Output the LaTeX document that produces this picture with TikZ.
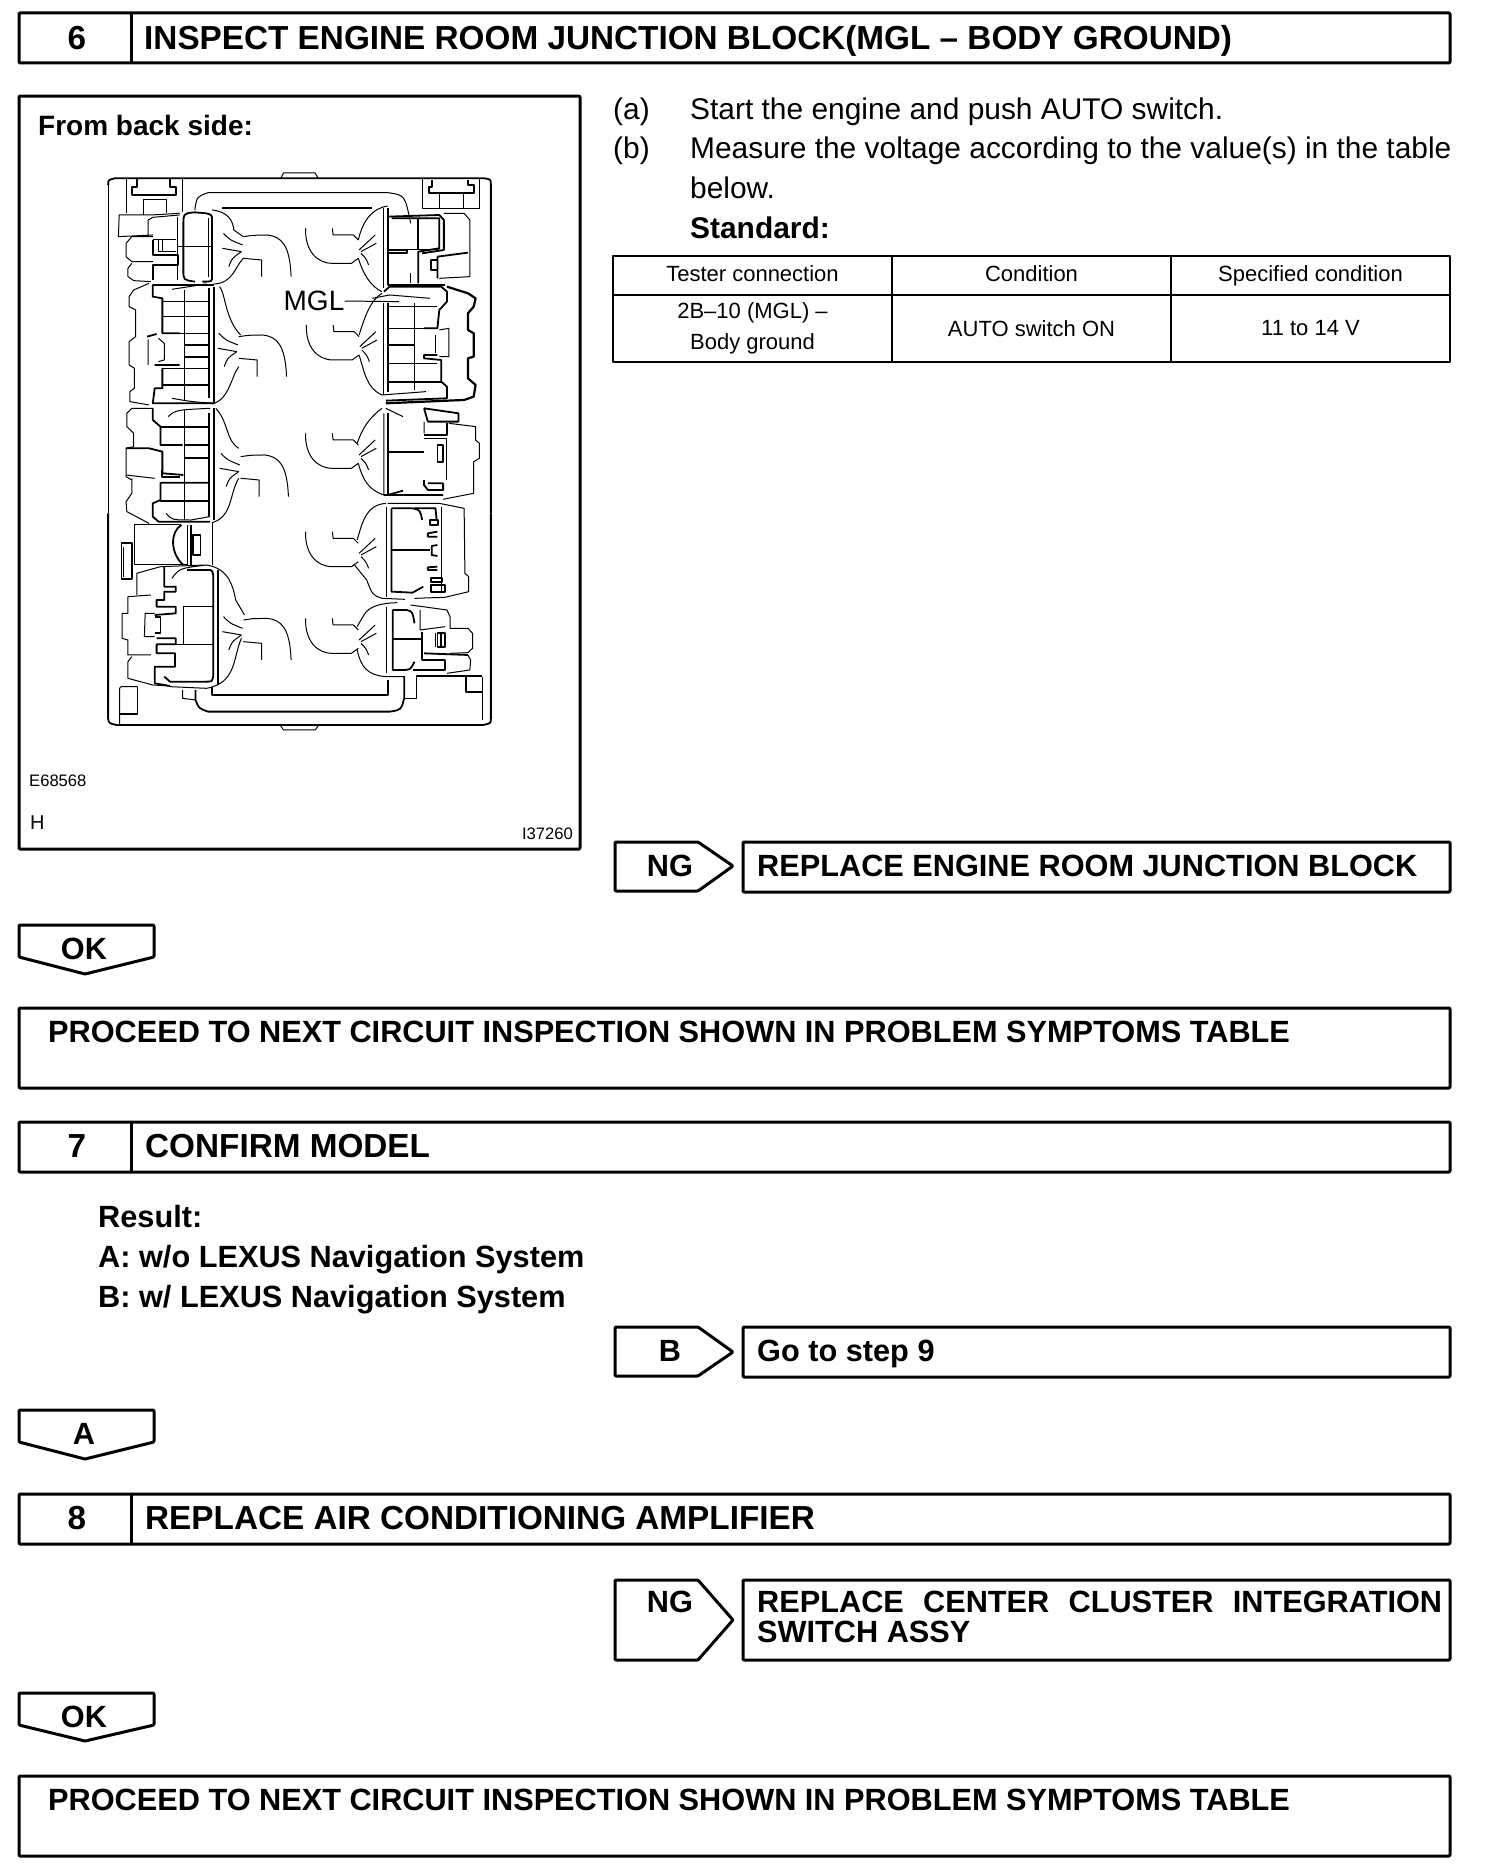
\documentclass[tikz,border=0pt]{standalone}
\usepackage{fontspec}
\setmainfont{Liberation Sans}
\usetikzlibrary{positioning,calc}
\newcommand{\bodyfont}{\fontsize{29.9}{39.7}\selectfont}
\newcommand{\headfont}{\fontsize{33.3}{36}\selectfont\bfseries}
\newcommand{\tagfont}{\fontsize{30.7}{33}\selectfont\bfseries}
\newcommand{\cellfont}{\fontsize{22}{31}\selectfont}
\newcommand{\tinyfont}{\fontsize{16.6}{18}\selectfont}

\begin{document}
\begin{tikzpicture}[
    x=1pt, y=-1pt,
    line join=round,
    frame/.style={
        draw,
        line width=3pt,
        rounded corners=1pt,
        minimum height=50pt,
        anchor=north west,
        inner sep=0pt,
        outer sep=0pt
    },
    cellbox/.style={
        draw,
        line width=2.4pt,
        align=center,
        anchor=north west,
        inner sep=0pt,
        outer sep=0pt,
        font=\cellfont
    },
    headtext/.style={
        anchor=base west,
        inner sep=0pt,
        font=\headfont
    },
    bodytext/.style={
        anchor=base west,
        inner sep=0pt,
        font=\bodyfont
    },
    tagtext/.style={
        anchor=base,
        inner sep=0pt,
        font=\tagfont
    },
    tagline/.style={
        line width=3pt,
        rounded corners=1pt
    },
    thin line/.style={line width=1pt},
    thick line/.style={line width=1.8pt},
    lfan/.pic={
        \draw[thin line] (0,-30) -- (25,-34) -- (63,-35) .. controls (100,-30) and (122,-5) .. (125,90);
        \draw[thin line] (0,35) -- (48,40) -- (48,90);
        \draw[thin line] (-52,-40) .. controls (-35,-20) .. (-2,-5);
        \draw[thin line] (-55,5) -- (-5,15);
        \draw[thin line] (-38,60) .. controls (-30,35) .. (-5,15);
    },
    rfan/.pic={
        \draw[thin line] (-138,-55) .. controls (-140,10) and (-110,50) .. (-68,50) -- (-18,50) -- (0,35);
        \draw[thin line] (-68,-55) -- (-66,-35) -- (-13,-35) -- (0,-20);
        \draw[thin line] (44,-35) .. controls (30,-20) .. (2,10);
        \draw[thin line] (47,-10) -- (7,15);
        \draw[thin line] (27,55) .. controls (20,35) .. (7,20);
    }
]
\useasboundingbox (0,0) rectangle (1504,1868);

% step 6
\node[frame, minimum width=1431pt] (head6) at (19,13) {};
\draw[line width=3pt] (131,13) -- (131,63);
\node[headtext, anchor=base] (num6) at (77,49) {6};
\node[headtext] (title6) at (144,49) {INSPECT ENGINE ROOM JUNCTION BLOCK(MGL -- BODY GROUND)};

\node[frame, minimum width=561pt, minimum height=753pt] (panel) at (19,96) {};
\node[anchor=base west, inner sep=0pt, font=\fontsize{28}{30}\selectfont\bfseries] (backside) at (38,135) {From back side:};
\node[anchor=base west, inner sep=0pt, font=\tinyfont] (codeA) at (29,786) {E68568};
\node[anchor=base west, inner sep=0pt, font=\fontsize{20}{22}\selectfont] (codeH) at (30,829) {H};
\node[anchor=base east, inner sep=0pt, font=\tinyfont] (codeB) at (573,839) {I37260};

% junction block, upper half
\begin{scope}[x=0.382pt, y=-0.3333pt, yshift=-80pt]
\draw[thick line] (283,315) .. controls (283,300) .. (300,295) -- (1268,295) .. controls (1285,298) .. (1285,315) -- (1285,1300);
\draw[thin line] (283,315) -- (283,1300);
\draw[thin line] (735,295) -- (742,279) -- (825,279) -- (833,295);
% latches
\draw[thin line] (330,295) -- (330,400);
\draw[thin line] (478,295) -- (478,395);
\draw[thick line] (358,295) -- (358,320) -- (345,320) -- (345,345) -- (460,345) -- (460,320) -- (445,320) -- (445,295);
\draw[thin line] (375,405) -- (375,360) -- (435,360) -- (435,400);
\draw[thin line] (1105,295) -- (1105,385) -- (1255,385) -- (1255,295);
\draw[thick line] (1130,300) -- (1130,320) -- (1122,320) -- (1122,340) -- (1240,340) -- (1240,315) -- (1225,315) -- (1225,300);
\draw[thin line] (1150,340) -- (1150,385) (1213,340) -- (1213,385);
\draw[thin line] (510,390) .. controls (515,350) .. (545,338) -- (1015,338) .. controls (1060,345) .. (1075,430);
\draw[thick line] (580,385) -- (975,385);
% left connector 1
\draw[thin line] (388,470) -- (388,420) -- (400,412) -- (470,405);
\draw[thin line] (470,400) -- (395,405) -- (312,405) -- (310,470) -- (400,465);
\draw[thin line] (400,470) -- (345,470) -- (330,490) -- (330,530) -- (345,545) -- (400,545);
\draw[thin line] (345,550) -- (335,565) -- (335,590) -- (350,602) -- (395,605);
\draw[thick line] (400,480) -- (400,525) -- (465,525) -- (465,555) -- (400,555) -- (400,600);
\draw[thin line] (400,480) -- (460,480) (415,480) -- (415,515) -- (460,515) (425,480) -- (425,515);
\draw[thin line] (465,410) -- (465,600) (465,500) -- (555,500);
\draw[thick line] (510,397) .. controls (480,400) .. (480,440) -- (480,570) .. controls (480,600) .. (510,605);
\draw[thick line] (510,397) -- (540,400) .. controls (555,405) .. (555,420) -- (555,590) .. controls (555,605) .. (530,605);
\draw[thin line] (545,415) -- (545,590);
\draw[thin line] (555,390) .. controls (595,395) and (610,420) .. (612,450) -- (637,470);
\draw[thin line] (637,535) .. controls (615,560) and (610,610) .. (560,612);
\pic at (637,500) {lfan};
% right connector 1
\draw[thin line] (1015,378) .. controls (975,385) and (950,420) .. (938,480);
\draw[thin line] (938,535) .. controls (950,580) and (970,620) .. (1000,635);
\pic at (938,500) {rfan};
\draw[thick line] (1015,385) -- (1015,615) -- (1165,615);
\draw[thin line] (1005,385) -- (1005,625);
\draw[thick line] (1015,410) -- (1150,405) -- (1162,420) -- (1162,510) -- (1105,520);
\draw[thick line] (1025,415) -- (1150,415) -- (1150,505) -- (1095,515) -- (1095,610);
\draw[thick line] (1095,415) -- (1095,510) (1018,510) -- (1065,510) -- (1065,520) -- (1018,520);
\draw[thin line] (1065,510) -- (1150,510);
\draw[thin line] (1162,400) -- (1215,400) -- (1230,420) -- (1230,590) -- (1150,595);
\draw[thick line] (1145,530) -- (1225,518) (1145,530) -- (1145,595);
\draw[thick line] (1145,540) -- (1128,540) -- (1128,570) -- (1145,570);
\draw[thin line] (1075,580) -- (1075,610);
% left connector 2
\draw[thin line] (390,610) -- (350,630) -- (338,650) -- (338,680) -- (355,690) -- (355,770) -- (338,785) -- (338,855) -- (352,865) -- (352,925) -- (340,935) -- (340,965) -- (390,975);
\draw[thick line] (425,760) -- (425,655) -- (400,650) -- (400,615) -- (560,615);
\draw[thin line] (450,628) -- (540,612);
\draw[thick line] (425,760) -- (470,760) (385,770) -- (410,762);
\draw[thin line] (388,778) -- (388,855) (415,775) -- (430,790) -- (430,840) -- (415,845);
\draw[thick line] (405,855) -- (470,855) (425,865) -- (425,925) -- (405,925) -- (400,970) -- (560,970);
\draw[thin line] (482,630) -- (482,960);
\draw[thick line] (548,625) -- (548,955) (560,620) -- (560,970);
\draw[thick line] (482,795) -- (548,795) (482,830) -- (548,830) (425,915) -- (548,915);
\draw[thin line] (425,665) -- (548,665) (425,710) -- (548,710) (425,760) -- (548,760) (425,865) -- (548,865);
\draw[thin line] (450,955) .. controls (500,965) .. (560,970);
\draw[thin line] (575,620) .. controls (590,640) and (590,720) .. (630,765);
\draw[thin line] (625,860) .. controls (605,890) and (600,960) .. (555,972);
\pic at (625,800) {lfan};
% right connector 2
\draw[thin line] (1000,640) .. controls (970,660) and (955,710) .. (940,765);
\draw[thin line] (940,825) .. controls (955,880) and (960,925) .. (1000,945);
\pic at (940,790) {rfan};
\draw[thick line] (1015,670) -- (1015,935);
\draw[thin line] (1005,670) -- (1005,945);
\draw[thick line] (1005,635) -- (1020,620) -- (1155,620) -- (1170,635) -- (1170,665) -- (1150,690) -- (1145,745) -- (1110,745);
\draw[thin line] (1015,680) -- (1145,680) (1015,745) -- (1145,745) (1015,850) -- (1145,850) (1085,670) -- (1085,930);
\draw[thick line] (1015,795) -- (1085,795) (1015,905) -- (1155,905);
\draw[thick line] (1145,825) -- (1110,825) -- (1110,835) -- (1155,840) -- (1155,905) -- (1170,920) -- (1170,955) -- (1010,962);
\draw[line width=2.2pt] (1170,620) -- (1225,640) -- (1245,655) -- (1240,680) -- (1225,700) -- (1225,750) -- (1240,760) -- (1240,830) -- (1225,835) -- (1225,895) -- (1245,915) -- (1240,950) -- (1215,960) -- (1010,970);
\draw[thin line] (1150,750) -- (1175,745) -- (1175,830) -- (1150,830);
\draw[thick line] (1140,765) -- (1140,820);
\draw[thin line] (975,655) -- (1020,645) -- (1125,655);
\draw[thin line] (1000,945) -- (1115,935);
\node[anchor=base west, inner sep=0pt, font=\fontsize{28}{30}\selectfont] (mgl) at (742,692) {MGL};
\draw[thin line] (mgl.east) -- (1045,665);
% left connector 3
\draw[thin line] (400,985) -- (345,985) -- (332,1000) -- (332,1040) -- (350,1060) -- (350,1100) -- (330,1105) -- (330,1190) -- (345,1200);
\draw[thick line] (400,985) -- (400,1020) -- (420,1040) -- (420,1095) -- (478,1095);
\draw[thick line] (330,1105) -- (390,1105) -- (425,1115) -- (425,1180) -- (480,1185);
\draw[thin line] (440,1010) .. controls (460,990) .. (550,985);
\draw[thick line] (420,1040) -- (548,1040) (482,1135) -- (548,1135) (482,1095) -- (548,1095);
\draw[thin line] (482,990) -- (482,1320);
\draw[thick line] (548,1000) -- (548,1310) (560,985) -- (560,1320);
\draw[thin line] (565,985) .. controls (600,1030) and (590,1080) .. (625,1105);
\pic at (630,1160) {lfan};
% right connector 3
\draw[thin line] (1000,985) .. controls (970,1010) and (950,1040) .. (935,1090);
\pic at (938,1115) {rfan};
\draw[thick line] (1015,1000) -- (1015,1245) (1015,1115) -- (1110,1115);
\draw[thin line] (1005,1000) -- (1005,1245) (1010,985) -- (1055,1010);
\draw[thick line] (1110,985) -- (1200,1000) -- (1200,1025) -- (1120,1025) -- (1110,985);
\draw[thin line] (1110,1025) -- (1110,1060) (1175,1030) -- (1245,1040) -- (1245,1080) -- (1255,1090) -- (1255,1135) -- (1240,1145) -- (1240,1240) -- (1160,1258);
\draw[thick line] (1110,1065) -- (1170,1065) -- (1170,1030);
\draw[thin line] (1110,1075) -- (1170,1075) -- (1170,1200);
\draw[thick line] (1145,1095) -- (1160,1095) -- (1160,1145) -- (1145,1145) -- cycle;
\end{scope}

% junction block, lower half
\begin{scope}[x=0.382pt, y=-0.3333pt, yshift=-470pt]
\draw[thick line] (1285,130) -- (1285,745) .. controls (1285,760) .. (1265,765) -- (305,765) .. controls (285,760) .. (283,745) -- (283,130);
\draw[thin line] (735,768) -- (742,780) -- (825,780) -- (833,768);
% left connector 3, lower part
\draw[thin line] (330,15) -- (405,25) (345,25) -- (345,70) -- (330,95) -- (332,125) -- (390,160);
\draw[thick line] (420,38) -- (548,38) (420,38) -- (420,90) -- (400,100) -- (400,140) -- (415,155) -- (550,155);
\draw[thick line] (420,92) -- (548,92);
\draw[thick line] (425,0) -- (425,20) -- (470,20);
\draw[thin line] (435,130) .. controls (450,150) .. (500,150) -- (548,140);
\draw[thin line] (625,25) .. controls (600,70) and (610,140) .. (555,158);
% right connector 3, lower part
\draw[thin line] (938,-20) .. controls (950,30) and (965,60) .. (1005,75);
\draw[thick line] (1015,75) -- (1055,62) (1005,75) -- (1160,75);
\draw[thick line] (1110,30) -- (1110,45) -- (1120,60) -- (1160,60) -- (1160,40) -- (1120,40);
% middle relay
\draw[thin line] (475,163) -- (352,163) -- (352,285) -- (490,285);
\draw[thick line] (475,165) .. controls (445,185) and (445,250) .. (480,285);
\draw[thin line] (492,165) -- (492,285);
\draw[thick line] (500,165) -- (500,285);
\draw[thick line] (505,195) -- (525,195) -- (525,255) -- (505,255) -- cycle;
\draw[thin line] (555,160) -- (555,285);
\draw[thick line] (318,220) -- (345,220) -- (345,328) -- (318,328) -- cycle;
\draw[thin line] (323,230) -- (323,320);
% left connector 4
\draw[thin line] (420,290) -- (358,310) -- (358,375);
\draw[thin line] (335,380) -- (395,375);
\draw[thin line] (335,380) -- (335,430) -- (320,430) -- (320,505) -- (335,510) -- (335,555) -- (395,555);
\draw[thin line] (345,560) -- (335,575) -- (335,625) -- (400,645) -- (445,648);
\draw[thick line] (430,290) -- (430,350) -- (460,350) -- (460,365) -- (430,365) -- (430,390) -- (410,390) -- (410,410) -- (460,410) -- (460,430) -- (405,435);
\draw[thin line] (405,430) -- (380,430) -- (378,500) -- (405,500);
\draw[thick line] (410,505) -- (460,505) -- (460,523) -- (410,523) -- (410,550) -- (458,550) -- (458,590) -- (405,590) -- (405,640) -- (445,648);
\draw[thin line] (420,290) -- (540,285) (450,325) .. controls (470,295) .. (540,285) .. controls (600,295) and (610,350) .. (617,390) -- (640,435);
\draw[thick line] (490,300) -- (545,300) .. controls (555,300) .. (558,315) -- (558,620) .. controls (555,635) .. (540,635) -- (445,635) -- (430,620);
\draw[thick line] (570,300) -- (570,645);
\draw[thin line] (480,410) -- (557,410) (480,410) -- (480,523) (462,523) -- (557,523);
\draw[thick line] (405,440) -- (420,440) -- (420,490) -- (405,490);
\draw[thin line] (632,505) .. controls (610,560) and (620,640) .. (540,655) -- (445,650);
\pic at (637,480) {lfan};
% bottom strap
\draw[thin line] (478,660) -- (478,685) -- (512,690);
\draw[thick line] (512,660) -- (512,690) .. controls (520,715) .. (545,725) -- (1020,725) .. controls (1050,720) .. (1058,685) -- (1058,620);
\draw[thick line] (555,650) -- (555,675) -- (1015,675) -- (1015,630);
\draw[thin line] (1090,620) -- (1090,685) -- (1058,685);
\draw[thick line] (1090,618) -- (1262,618);
\draw[thick line] (1220,620) -- (1220,665) -- (1262,665);
\draw[thin line] (1262,620) -- (1262,750);
\draw[thin line] (360,650) -- (325,650) .. controls (313,650) .. (313,665) -- (313,765);
\draw[thick line] (360,650) -- (360,733) -- (313,733);
% right connector 4
\draw[thin line] (1010,100) .. controls (960,105) and (950,150) .. (935,210);
\draw[thin line] (928,285) -- (960,330) .. controls (975,375) .. (1000,385) -- (1060,388);
\pic at (938,240) {rfan};
\draw[thick line] (1012,110) -- (1012,380);
\draw[thick line] (1025,115) -- (1025,365) -- (1080,368) -- (1108,350);
\draw[thick line] (1025,115) -- (1080,115) .. controls (1100,120) .. (1105,150);
\draw[thick line] (1025,240) -- (1125,240);
\draw[thin line] (1015,100) -- (1150,100) -- (1215,115) -- (1217,310) -- (1227,320) -- (1227,365) -- (1165,382) -- (1085,385);
\draw[thick line] (1085,115) -- (1140,115) -- (1143,150);
\draw[thin line] (1155,110) -- (1155,370);
\draw[thick line] (1125,150) -- (1147,150) -- (1147,165) -- (1125,165) -- cycle;
\draw[thick line] (1128,323) -- (1158,323) -- (1158,335) -- (1128,335) -- cycle;
\draw[thick line] (1145,185) -- (1120,190) -- (1120,200) -- (1145,200);
\draw[thick line] (1145,225) -- (1130,228) -- (1130,255) -- (1145,258);
\draw[thick line] (1145,290) -- (1120,292) -- (1120,300) -- (1145,300);
\draw[thick line] (1128,345) -- (1128,365) -- (1165,365) -- (1165,345) -- cycle;
% right connector 5
\draw[thin line] (1040,398) .. controls (975,400) and (960,420) .. (950,440) -- (935,470);
\draw[thin line] (935,540) .. controls (945,590) and (960,615) .. (1010,620) -- (1060,620);
\pic at (938,500) {rfan};
\draw[thick line] (1012,410) -- (1012,610);
\draw[thick line] (1028,420) -- (1028,600) -- (1060,600) .. controls (1075,598) .. (1085,575);
\draw[thick line] (1028,420) -- (1065,420) .. controls (1080,425) .. (1085,460);
\draw[thick line] (1028,507) -- (1105,507);
\draw[thin line] (1075,405) -- (1170,420) -- (1178,440) -- (1178,475) -- (1225,475) -- (1237,490) -- (1237,535) -- (1225,548) -- (1178,550);
\draw[thick line] (1110,550) -- (1225,555);
\draw[thin line] (1225,555) -- (1232,570) -- (1230,600) -- (1170,610);
\draw[thin line] (1100,420) -- (1100,480) -- (1165,470);
\draw[thick line] (1105,485) -- (1105,570) -- (1165,570) -- (1165,600) -- (1080,600);
\draw[thick line] (1140,490) -- (1140,530) (1145,490) -- (1165,490) -- (1165,530) -- (1145,530) -- cycle (1155,490) -- (1155,530);
\end{scope}

\node[bodytext] (itemA) at (613,119) {(a)};
\node[bodytext] (itemAtxt) at (690,119) {Start the engine and push AUTO switch.};
\node[bodytext] (itemB) at (613,158) {(b)};
\node[bodytext] (itemBtxt) at (690,158) {Measure the voltage according to the value(s) in the table};
\node[bodytext] (itemBmore) at (690,198) {below.};
\node[bodytext, font=\bodyfont\bfseries] (standard) at (690,238) {Standard:};

\node[cellbox, minimum width=279pt, minimum height=39pt, text height=16pt, text depth=5pt] (cellA) at (613,256) {Tester connection};
\node[cellbox, minimum width=279pt, minimum height=39pt, text height=16pt, text depth=5pt, right=0pt of cellA] (cellB) {Condition};
\node[cellbox, minimum width=279pt, minimum height=39pt, text height=16pt, text depth=5pt, right=0pt of cellB] (cellC) {Specified condition};
\node[cellbox, minimum width=279pt, minimum height=67pt, below=0pt of cellA] (cellD) {2B--10 (MGL) --\\Body ground};
\node[cellbox, minimum width=279pt, minimum height=67pt, below=0pt of cellB] (cellE) {AUTO switch ON};
\node[cellbox, minimum width=279pt, minimum height=67pt, below=0pt of cellC] (cellF) {11 to 14 V};

\draw[tagline] (615,842) -- (698,842) -- (733,866) -- (698,891) -- (615,891) -- cycle;
\node[tagtext] (ngA) at (670,876) {NG};
\node[frame, minimum width=707pt] (fixA) at (743,842) {};
\node[tagtext, anchor=base west] (fixAtxt) at (757,876) {REPLACE ENGINE ROOM JUNCTION BLOCK};

\draw[tagline] (19,925) -- (154,925) -- (154,957) -- (85,974) -- (19,957) -- cycle;
\node[tagtext] (okA) at (84,959) {OK};

\node[frame, minimum width=1431pt, minimum height=80pt] (nextA) at (19,1008) {};
\node[tagtext, anchor=base west] (nextAtxt) at (48,1042) {PROCEED TO NEXT CIRCUIT INSPECTION SHOWN IN PROBLEM SYMPTOMS TABLE};

% step 7
\node[frame, minimum width=1431pt] (head7) at (19,1122) {};
\draw[line width=3pt] (131,1122) -- (131,1172);
\node[headtext, anchor=base] (num7) at (77,1157) {7};
\node[headtext] (title7) at (145,1157) {CONFIRM MODEL};

\node[tagtext, anchor=base west] (result) at (98,1227) {Result:};
\node[tagtext, anchor=base west] (resultA) at (98,1267) {A: w/o LEXUS Navigation System};
\node[tagtext, anchor=base west] (resultB) at (98,1307) {B: w/ LEXUS Navigation System};

\draw[tagline] (615,1327) -- (698,1327) -- (733,1352) -- (698,1376) -- (615,1376) -- cycle;
\node[tagtext] (tagB) at (670,1361) {B};
\node[frame, minimum width=707pt] (fixB) at (743,1327) {};
\node[tagtext, anchor=base west] (fixBtxt) at (757,1361) {Go to step 9};

\draw[tagline] (19,1410) -- (154,1410) -- (154,1442) -- (85,1459) -- (19,1442) -- cycle;
\node[tagtext] (tagA) at (84,1444) {A};

% step 8
\node[frame, minimum width=1431pt] (head8) at (19,1494) {};
\draw[line width=3pt] (131,1494) -- (131,1544);
\node[headtext, anchor=base] (num8) at (77,1529) {8};
\node[headtext] (title8) at (145,1529) {REPLACE AIR CONDITIONING AMPLIFIER};

\draw[tagline] (615,1580) -- (698,1580) -- (733,1620) -- (698,1660) -- (615,1660) -- cycle;
\node[tagtext] (ngB) at (670,1612) {NG};
\node[frame, minimum width=707pt, minimum height=80pt] (fixC) at (743,1580) {};
\node[tagtext, anchor=base west] (fixCtxt) at (757,1612) {REPLACE\hspace{0.35em} CENTER\hspace{0.35em} CLUSTER\hspace{0.35em} INTEGRATION};
\node[tagtext, anchor=base west] (fixCmore) at (757,1642) {SWITCH ASSY};

\draw[tagline] (19,1693) -- (154,1693) -- (154,1725) -- (85,1741) -- (19,1725) -- cycle;
\node[tagtext] (okB) at (84,1727) {OK};

\node[frame, minimum width=1431pt, minimum height=80pt] (nextB) at (19,1776) {};
\node[tagtext, anchor=base west] (nextBtxt) at (48,1810) {PROCEED TO NEXT CIRCUIT INSPECTION SHOWN IN PROBLEM SYMPTOMS TABLE};

\end{tikzpicture}
\end{document}
